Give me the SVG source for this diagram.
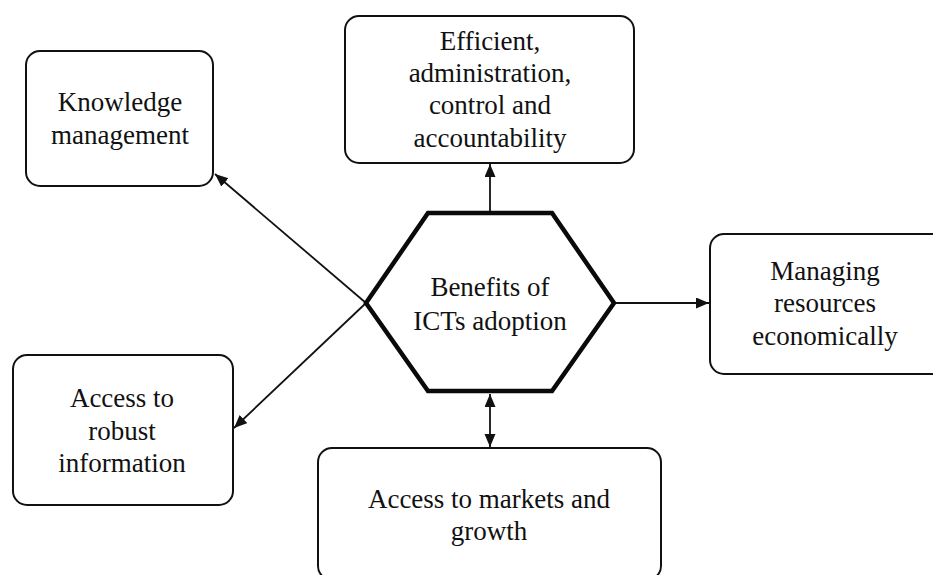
<svg xmlns="http://www.w3.org/2000/svg" width="933" height="575" viewBox="0 0 933 575">
  <style>
    .box { fill: #ffffff; stroke: #111111; stroke-width: 2; }
    .hex { fill: #ffffff; stroke: #0a0a0a; stroke-width: 4.5; stroke-linejoin: miter; }
    .lbl { font-family: "Liberation Serif", "Times New Roman", serif; font-size: 27px; fill: #111111; text-anchor: middle; }
    .conn { stroke: #111111; stroke-width: 1.8; fill: none; }
  </style>
  <defs>
    <marker id="arrow" markerUnits="userSpaceOnUse" markerWidth="14" markerHeight="12" refX="13" refY="5.5" orient="auto-start-reverse" viewBox="0 0 14 12">
      <path d="M0,0 L13,5.5 L0,11 z" fill="#111111"/>
    </marker>
  </defs>
  <rect x="0" y="0" width="933" height="575" fill="#ffffff"/>

  <g id="connectors">
    <line class="conn" x1="490" y1="213" x2="490" y2="164" marker-end="url(#arrow)"/>
    <line class="conn" x1="614" y1="303" x2="709" y2="303" marker-end="url(#arrow)"/>
    <line class="conn" x1="490" y1="394" x2="490" y2="447" marker-start="url(#arrow)" marker-end="url(#arrow)"/>
    <line class="conn" x1="366" y1="303" x2="215" y2="174" marker-end="url(#arrow)"/>
    <line class="conn" x1="366" y1="303" x2="234" y2="428" marker-end="url(#arrow)"/>
  </g>

  <g id="knowledge">
    <rect class="box" x="26" y="51" width="187" height="135" rx="14" ry="14"/>
    <text class="lbl" x="120" y="111">Knowledge</text>
    <text class="lbl" x="120" y="144">management</text>
  </g>

  <g id="efficient">
    <rect class="box" x="345" y="16" width="289" height="147" rx="14" ry="14"/>
    <text class="lbl" x="490" y="50">Efficient,</text>
    <text class="lbl" x="490" y="82">administration,</text>
    <text class="lbl" x="490" y="114">control and</text>
    <text class="lbl" x="490" y="147">accountability</text>
  </g>

  <g id="managing">
    <rect class="box" x="710" y="234" width="240" height="140" rx="14" ry="14"/>
    <text class="lbl" x="825" y="280">Managing</text>
    <text class="lbl" x="825" y="312">resources</text>
    <text class="lbl" x="825" y="345">economically</text>
  </g>

  <g id="robust">
    <rect class="box" x="13" y="355" width="220" height="150" rx="14" ry="14"/>
    <text class="lbl" x="122" y="407">Access to</text>
    <text class="lbl" x="122" y="440">robust</text>
    <text class="lbl" x="122" y="472">information</text>
  </g>

  <g id="markets">
    <rect class="box" x="318" y="448" width="343" height="132" rx="14" ry="14"/>
    <text class="lbl" x="489" y="508">Access to markets and</text>
    <text class="lbl" x="489" y="540">growth</text>
  </g>

  <g id="benefits">
    <polygon class="hex" points="428,213 552,213 614,303 552,391 428,391 366,303"/>
    <text class="lbl" x="490" y="296">Benefits of</text>
    <text class="lbl" x="490" y="330">ICTs adoption</text>
  </g>
</svg>
